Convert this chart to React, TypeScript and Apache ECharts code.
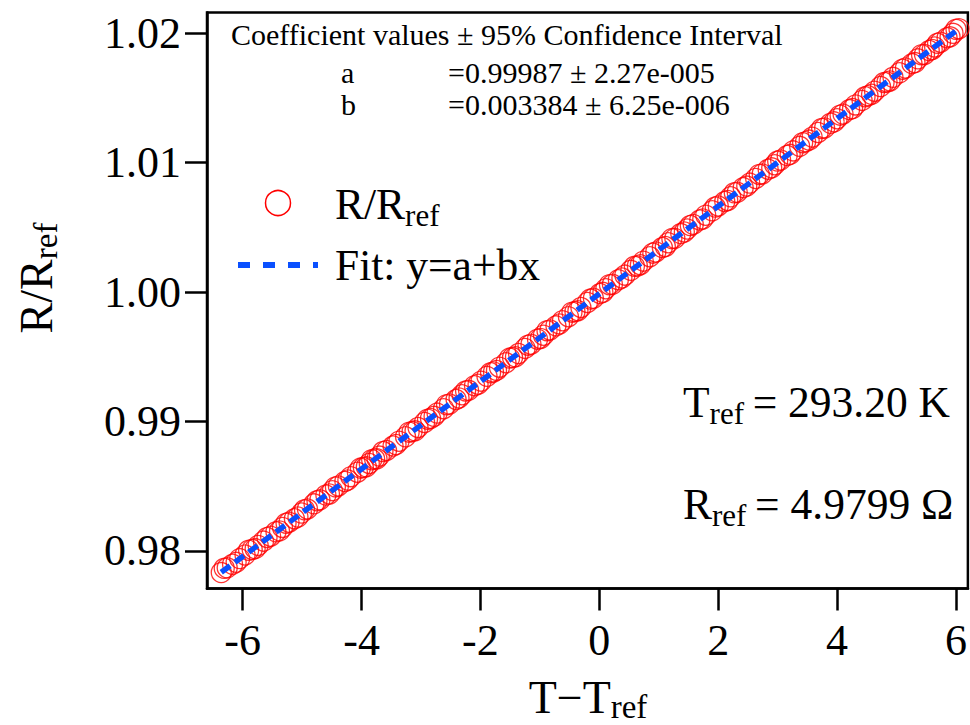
import React, { useEffect, useRef } from "react";
import * as echarts from "echarts";

// sweep 1
const xValues = [
  -6.36, -6.26, -6.17, -6.05, -5.96, -5.84, -5.74, -5.65, -5.53, -5.44,
  -5.33, -5.22, -5.13, -5.01, -4.91, -4.80, -4.70, -4.60, -4.49, -4.39,
  -4.28, -4.18, -4.07, -3.97, -3.87, -3.78, -3.70, -3.58, -3.47, -3.37,
  -3.26, -3.15, -3.05, -2.94, -2.84, -2.73, -2.62, -2.52, -2.41, -2.31,
  -2.20, -2.10, -1.99, -1.89, -1.78, -1.68, -1.57, -1.46, -1.36, -1.25,
  -1.15, -1.04, -0.94, -0.83, -0.73, -0.62, -0.52, -0.41, -0.31, -0.20,
  -0.10, 0.01, 0.11, 0.22, 0.32, 0.43, 0.53, 0.64, 0.74, 0.85,
  0.95, 1.06, 1.16, 1.27, 1.37, 1.48, 1.58, 1.69, 1.79, 1.90,
  2.00, 2.11, 2.21, 2.32, 2.42, 2.53, 2.63, 2.74, 2.84, 2.95,
  3.05, 3.16, 3.26, 3.37, 3.47, 3.58, 3.68, 3.79, 3.89, 4.00,
  4.10, 4.21, 4.31, 4.42, 4.52, 4.63, 4.73, 4.84, 4.94, 5.05,
  5.15, 5.26, 5.36, 5.47, 5.55, 5.64, 5.74, 5.85, 5.95, 6.05,
];

const yValues = [
  0.97833, 0.9787, 0.97897, 0.97941, 0.97969, 0.98012, 0.98043, 0.98076, 0.98114, 0.98148,
  0.98182, 0.98222, 0.98249, 0.98293, 0.98324, 0.98364, 0.98395, 0.98432, 0.98466, 0.98502,
  0.98537, 0.98574, 0.98608, 0.98645, 0.98676, 0.9871, 0.98733, 0.98776, 0.98811, 0.98848,
  0.98882, 0.98922, 0.98954, 0.98993, 0.99024, 0.99065, 0.99099, 0.99135, 0.9917, 0.99207,
  0.99241, 0.99277, 0.99312, 0.99349, 0.99383, 0.9942, 0.99454, 0.99494, 0.99525, 0.99565,
  0.99597, 0.99636, 0.99667, 0.99707, 0.99739, 0.99779, 0.9981, 0.99849, 0.99881, 0.9992,
  0.99952, 0.99989, 1.00026, 1.0006, 1.00096, 1.00131, 1.00168, 1.00202, 1.00239, 1.00273,
  1.0031, 1.00344, 1.00381, 1.00415, 1.00452, 1.00487, 1.00523, 1.00557, 1.00594, 1.00628,
  1.00665, 1.007, 1.00736, 1.00771, 1.00807, 1.00842, 1.00878, 1.00913, 1.00949, 1.00984,
  1.0102, 1.01055, 1.01091, 1.01126, 1.01162, 1.01197, 1.01233, 1.01268, 1.01304, 1.01339,
  1.01375, 1.0141, 1.01446, 1.01481, 1.01517, 1.01552, 1.01588, 1.01623, 1.01659, 1.01694,
  1.01731, 1.01765, 1.01802, 1.01836, 1.01866, 1.01894, 1.0193, 1.01965, 1.01999, 1.02035,
];

// sweep 2 (sparser, slightly scattered)
const xValues2 = [
  -6.31, -6.11, -5.90, -5.79, -5.59, -5.38, -5.27, -5.07, -4.96, -4.75,
  -4.54, -4.44, -4.23, -4.02, -3.92, -3.83, -3.74, -3.64, -3.42, -3.20,
  -3.10, -2.89, -2.78, -2.57, -2.36, -2.25, -2.04, -1.83, -1.73, -1.51,
  -1.41, -1.20, -0.99, -0.88, -0.67, -0.46, -0.36, -0.15, 0.06, 0.17,
  0.38, 0.59, 0.69, 0.90, 1.11, 1.22, 1.43, 1.53, 1.74, 1.95,
  2.16, 2.27, 2.48, 2.69, 2.90, 3.00, 3.21, 3.42, 3.53, 3.74,
  3.95, 4.05, 4.26, 4.47, 4.58, 4.79, 4.89, 5.10, 5.31, 5.42,
  5.60, 5.69, 5.90, 6.00,
];

const yValues2 = [
  0.97866, 0.97912, 0.98005, 0.98018, 0.98104, 0.98155, 0.98214, 0.98262, 0.98318, 0.98388,
  0.9844, 0.98495, 0.98548, 0.9864, 0.9865, 0.98705, 0.98712, 0.98768, 0.98822, 0.98918,
  0.98928, 0.99018, 0.9904, 0.9913, 0.99182, 0.99236, 0.99288, 0.99377, 0.99395, 0.9949,
  0.995, 0.9959, 0.99642, 0.99702, 0.99754, 0.99845, 0.99856, 0.99946, 0.99998, 1.00057,
  1.00109, 1.00199, 1.00211, 1.00301, 1.00352, 1.00413, 1.00464, 1.00514, 1.00565, 1.00657,
  1.00708, 1.00767, 1.00819, 1.00909, 1.0096, 1.01012, 1.01064, 1.01154, 1.01174, 1.01264,
  1.01315, 1.01367, 1.01418, 1.01509, 1.01528, 1.01619, 1.01631, 1.01722, 1.01773, 1.01834,
  1.01874, 1.01922, 1.01972, 1.0203,
];

const fitX = [-6.36, 6.05];
const fitY = [0.97835, 1.02034];

const xTicks = [-6, -4, -2, 0, 2, 4, 6];
const yTicks = [0.98, 0.99, 1.0, 1.01, 1.02];

const FONT = '"Liberation Serif", "Times New Roman", serif';

export default function App() {
  const ref = useRef<HTMLDivElement>(null);
  useEffect(() => {
    if (!ref.current) return;
    const chart = echarts.init(ref.current, undefined, { renderer: "svg" });
    const scatterData = xValues
      .map((x, i) => [x, yValues[i]])
      .concat(xValues2.map((x, i) => [x, yValues2[i]]));
    const fitData = fitX.map((x, i) => [x, fitY[i]]);
    const sub = { fontSize: 31, fontFamily: FONT, color: "#000", padding: [22, 0, 0, 0] };
    const main = { fontSize: 43.5, fontFamily: FONT, color: "#000" };
    const tmain = { fontSize: 46, fontFamily: FONT, color: "#000" };
    const tsub = { fontSize: 33, fontFamily: FONT, color: "#000", padding: [20, 0, 0, 0] };
    const small = `30px ${FONT}`;
    chart.setOption({
      animation: false,
      backgroundColor: "#fff",
      grid: {
        left: 207,
        top: 12.5,
        width: 765,
        height: 576,
        show: true,
        borderColor: "#000",
        borderWidth: 2.5,
        containLabel: false,
      },
      xAxis: {
        type: "value",
        min: -6.6,
        max: 6.2,
        axisLine: { show: true, onZero: false, lineStyle: { color: "#000", width: 2.5 } },
        axisTick: { show: true, inside: false, length: 22, customValues: xTicks, lineStyle: { color: "#000", width: 2.5 } },
        axisLabel: {
          customValues: xTicks,
          formatter: (v: number) => String(v),
          fontFamily: FONT,
          fontSize: 44,
          color: "#000",
          margin: 30,
        },
        splitLine: { show: false },
      },
      yAxis: {
        type: "value",
        min: 0.9771,
        max: 1.0216,
        axisLine: { show: true, onZero: false, lineStyle: { color: "#000", width: 2.5 } },
        axisTick: { show: true, inside: false, length: 22, customValues: yTicks, lineStyle: { color: "#000", width: 2.5 } },
        axisLabel: {
          customValues: yTicks,
          formatter: (v: number) => v.toFixed(2),
          fontFamily: FONT,
          fontSize: 44,
          color: "#000",
          margin: 26,
        },
        splitLine: { show: false },
      },
      series: [
        {
          type: "scatter",
          data: scatterData,
          symbol: "circle",
          symbolSize: 20,
          itemStyle: { color: "rgba(0,0,0,0)", borderColor: "#ff0000", borderWidth: 1.3 },
          z: 2,
        },
        {
          type: "line",
          data: fitData,
          symbol: "none",
          lineStyle: { color: "#0a50ff", width: 5.5, type: [11, 6] },
          z: 3,
        },
      ],
      graphic: [
        {
          type: "text",
          x: 231,
          y: 34,
          style: { text: "Coefficient values ± 95% Confidence Interval", font: small, fill: "#000", verticalAlign: "middle" },
        },
        {
          type: "text",
          x: 341,
          y: 72,
          style: { text: "a", font: small, fill: "#000", verticalAlign: "middle" },
        },
        {
          type: "text",
          x: 448,
          y: 72,
          style: { text: "=0.99987 ± 2.27e-005", font: small, fill: "#000", verticalAlign: "middle" },
        },
        {
          type: "text",
          x: 341,
          y: 104,
          style: { text: "b", font: small, fill: "#000", verticalAlign: "middle" },
        },
        {
          type: "text",
          x: 448,
          y: 104,
          style: { text: "=0.003384 ± 6.25e-006", font: small, fill: "#000", verticalAlign: "middle" },
        },
        {
          type: "circle",
          shape: { cx: 278, cy: 203, r: 12.5 },
          style: { fill: "none", stroke: "#ff0000", lineWidth: 1.5 },
        },
        {
          type: "text",
          x: 335,
          y: 204,
          style: { text: "{m|R/R}{s|ref}", rich: { m: main, s: sub }, verticalAlign: "middle" },
        },
        {
          type: "line",
          shape: { x1: 238, y1: 265, x2: 318, y2: 265 },
          style: { stroke: "#0a50ff", lineWidth: 6, lineDash: [12, 13] },
        },
        {
          type: "text",
          x: 335,
          y: 265,
          style: { text: "{m|Fit: y=a+bx}", rich: { m: main }, verticalAlign: "middle" },
        },
        {
          type: "text",
          x: 683,
          y: 402,
          style: { text: "{m|T}{s|ref}{m|\u2009= 293.20 K}", rich: { m: main, s: sub }, verticalAlign: "middle" },
        },
        {
          type: "text",
          x: 683,
          y: 504,
          style: { text: "{m|R}{s|ref}{m|\u2009= 4.9799 Ω}", rich: { m: main, s: sub }, verticalAlign: "middle" },
        },
        {
          type: "text",
          x: 36,
          y: 278,
          rotation: Math.PI / 2,
          style: { text: "{m|R/R}{s|ref}", rich: { m: tmain, s: tsub }, align: "center", verticalAlign: "middle" },
        },
        {
          type: "text",
          x: 588,
          y: 697,
          style: { text: "{m|T−T}{s|ref}", rich: { m: tmain, s: tsub }, align: "center", verticalAlign: "middle" },
        },
      ],
    });
    return () => chart.dispose();
  }, []);
  return (
    <div
      ref={ref}
      style={{ position: "fixed", left: 0, top: 0, width: 970, height: 725, background: "#fff" }}
    />
  );
}
